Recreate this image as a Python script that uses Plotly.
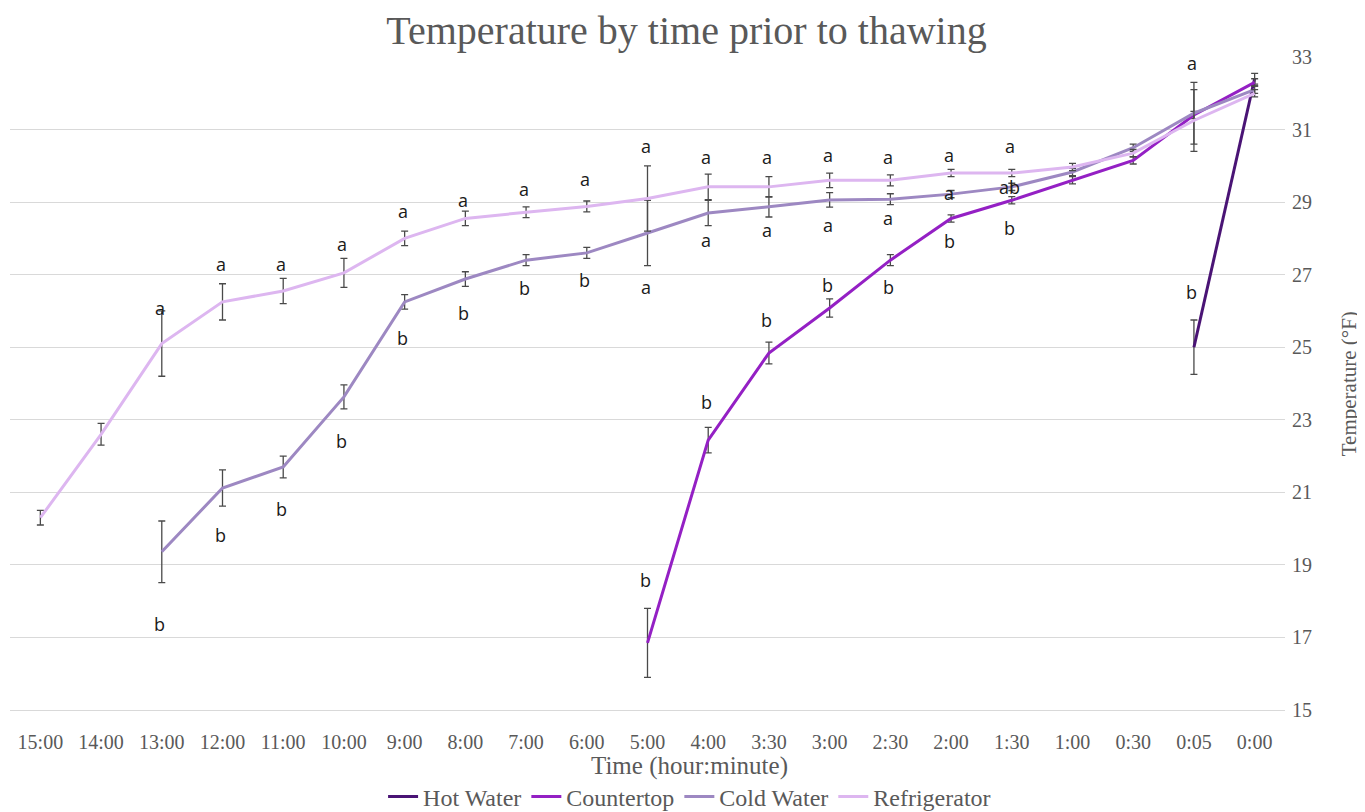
import plotly.graph_objects as go

categories = ["15:00", "14:00", "13:00", "12:00", "11:00", "10:00", "9:00", "8:00", "7:00", "6:00",
              "5:00", "4:00", "3:30", "3:00", "2:30", "2:00", "1:30", "1:00", "0:30", "0:05", "0:00"]

hot_water = [None] * 19 + [25.0, 32.4]
hot_water_err = [None] * 19 + [0.75, 0.15]

countertop = [None] * 10 + [16.85, 22.44, 24.84, 26.08, 27.4, 28.55, 29.05, 29.6, 30.15, 31.4, 32.3]
countertop_err = [None] * 10 + [0.95, 0.35, 0.3, 0.25, 0.15, 0.1, 0.1, 0.1, 0.1, 0.1, 0.1]

cold_water = [None, None, 19.36, 21.12, 21.7, 23.63, 26.25, 26.88, 27.4, 27.6,
              28.15, 28.7, 28.87, 29.06, 29.08, 29.22, 29.42, 29.83, 30.5, 31.45, 32.1]
cold_water_err = [None, None, 0.85, 0.5, 0.3, 0.33, 0.2, 0.2, 0.15, 0.15,
                  0.9, 0.35, 0.28, 0.2, 0.15, 0.1, 0.1, 0.1, 0.1, 0.85, 0.1]

refrigerator = [20.3, 22.6, 25.1, 26.25, 26.55, 27.05, 28.0, 28.55, 28.72, 28.88,
                29.1, 29.42, 29.42, 29.6, 29.6, 29.8, 29.8, 29.97, 30.35, 31.25, 32.0]
refrigerator_err = [0.2, 0.3, 0.9, 0.5, 0.35, 0.4, 0.2, 0.2, 0.15, 0.15,
                    0.9, 0.35, 0.28, 0.2, 0.15, 0.1, 0.1, 0.1, 0.1, 0.85, 0.1]

# significance letters (None = no label)
hot_letters = [None] * 19 + ["b", None]
countertop_letters = [None] * 10 + ["b", "b", "b", "b", "b", "b", "b", None, None, None, None]
cold_letters = [None, None, "b", "b", "b", "b", "b", "b", "b", "b",
                "a", "a", "a", "a", "a", "a", "ab", None, None, None, None]
refrigerator_letters = [None, None, "a", "a", "a", "a", "a", "a", "a", "a",
                        "a", "a", "a", "a", "a", "a", "a", None, None, "a", None]

# label pixel offsets (style, not data): positive = above point
hot_shift = [0] * 19 + [55, 0]
countertop_shift = [0] * 10 + [63, 38, 33, 23, -27, -23, -28, 0, 0, 0, 0]
cold_shift = [0, 0, -72, -47, -42, -44, -36, -34, -28, -27,
              -54, -27, -23, -25, -19, 1, 0, 0, 0, 0, 0]
refrigerator_shift = [0, 0, 36, 38, 27, 29, 27, 18, 23, 27,
                      52, 30, 30, 25, 23, 18, 27, 0, 0, 57, 0]

series = [
    ("Hot Water", hot_water, hot_water_err, "#4a1475", hot_letters, hot_shift),
    ("Countertop", countertop, countertop_err, "#9420c4", countertop_letters, countertop_shift),
    ("Cold Water", cold_water, cold_water_err, "#9d88c2", cold_letters, cold_shift),
    ("Refrigerator", refrigerator, refrigerator_err, "#ddb6f0", refrigerator_letters, refrigerator_shift),
]

fig = go.Figure()
annotations = []
for name, vals, errs, color, letters, shifts in series:
    fig.add_trace(go.Scatter(
        x=categories, y=vals, name=name, mode="lines",
        line=dict(color=color, width=3),
        connectgaps=False,
        error_y=dict(type="data", array=errs, visible=True,
                     color="#4a4a4a", thickness=1.3, width=3.5),
    ))
    for cat, v, lt, sh in zip(categories, vals, letters, shifts):
        if lt is None or v is None:
            continue
        annotations.append(dict(
            x=cat, y=v, xref="x", yref="y", text=lt, showarrow=False,
            yshift=sh, xshift=-2,
            font=dict(family="Open Sans, Liberation Sans, sans-serif", size=18, color="#1a1a1a"),
        ))

grey = "#595959"
serif = "Liberation Serif, Times New Roman, serif"

annotations.append(dict(
    text="Time (hour:minute)", xref="paper", yref="paper", x=0.533, y=-0.086,
    xanchor="center", yanchor="middle", showarrow=False,
    font=dict(family=serif, size=25, color=grey)))
annotations.append(dict(
    text="Temperature (°F)", xref="paper", yref="paper", x=1.05, y=0.5,
    xanchor="center", yanchor="middle", showarrow=False, textangle=-90,
    font=dict(family=serif, size=21, color=grey)))

# page body adds an 8px offset; figure is sized so the chart lands on the reference grid
fig.update_layout(
    width=1357, height=804,
    margin=dict(l=2, r=80, t=49, b=102, autoexpand=False),
    paper_bgcolor="white", plot_bgcolor="white",
    title=dict(text="Temperature by time prior to thawing", x=0.5, xanchor="center",
               y=0.9726, yanchor="middle",
               font=dict(family=serif, size=40, color=grey)),
    showlegend=True,
    legend=dict(orientation="h", x=0.533, xanchor="center", y=-0.133, yanchor="middle",
                font=dict(family=serif, size=24, color=grey), itemwidth=30,
                tracegroupgap=0),
    annotations=annotations,
)
fig.update_xaxes(
    type="category", categoryorder="array", categoryarray=categories,
    range=[-0.5, 20.5], showgrid=False, automargin=False,
    showline=True, linecolor="#d9d9d9", linewidth=1,
    ticks="outside", ticklen=14, tickcolor="rgba(0,0,0,0)",
    tickfont=dict(family=serif, size=20, color=grey),
)
fig.update_yaxes(
    side="right", range=[15, 33], dtick=2, tick0=15, automargin=False,
    showgrid=True, gridcolor="#d9d9d9", gridwidth=1, zeroline=False,
    showline=False, ticks="outside", ticklen=2, tickcolor="rgba(0,0,0,0)",
    tickfont=dict(family=serif, size=20, color=grey),
)

fig.write_html("out.html")
